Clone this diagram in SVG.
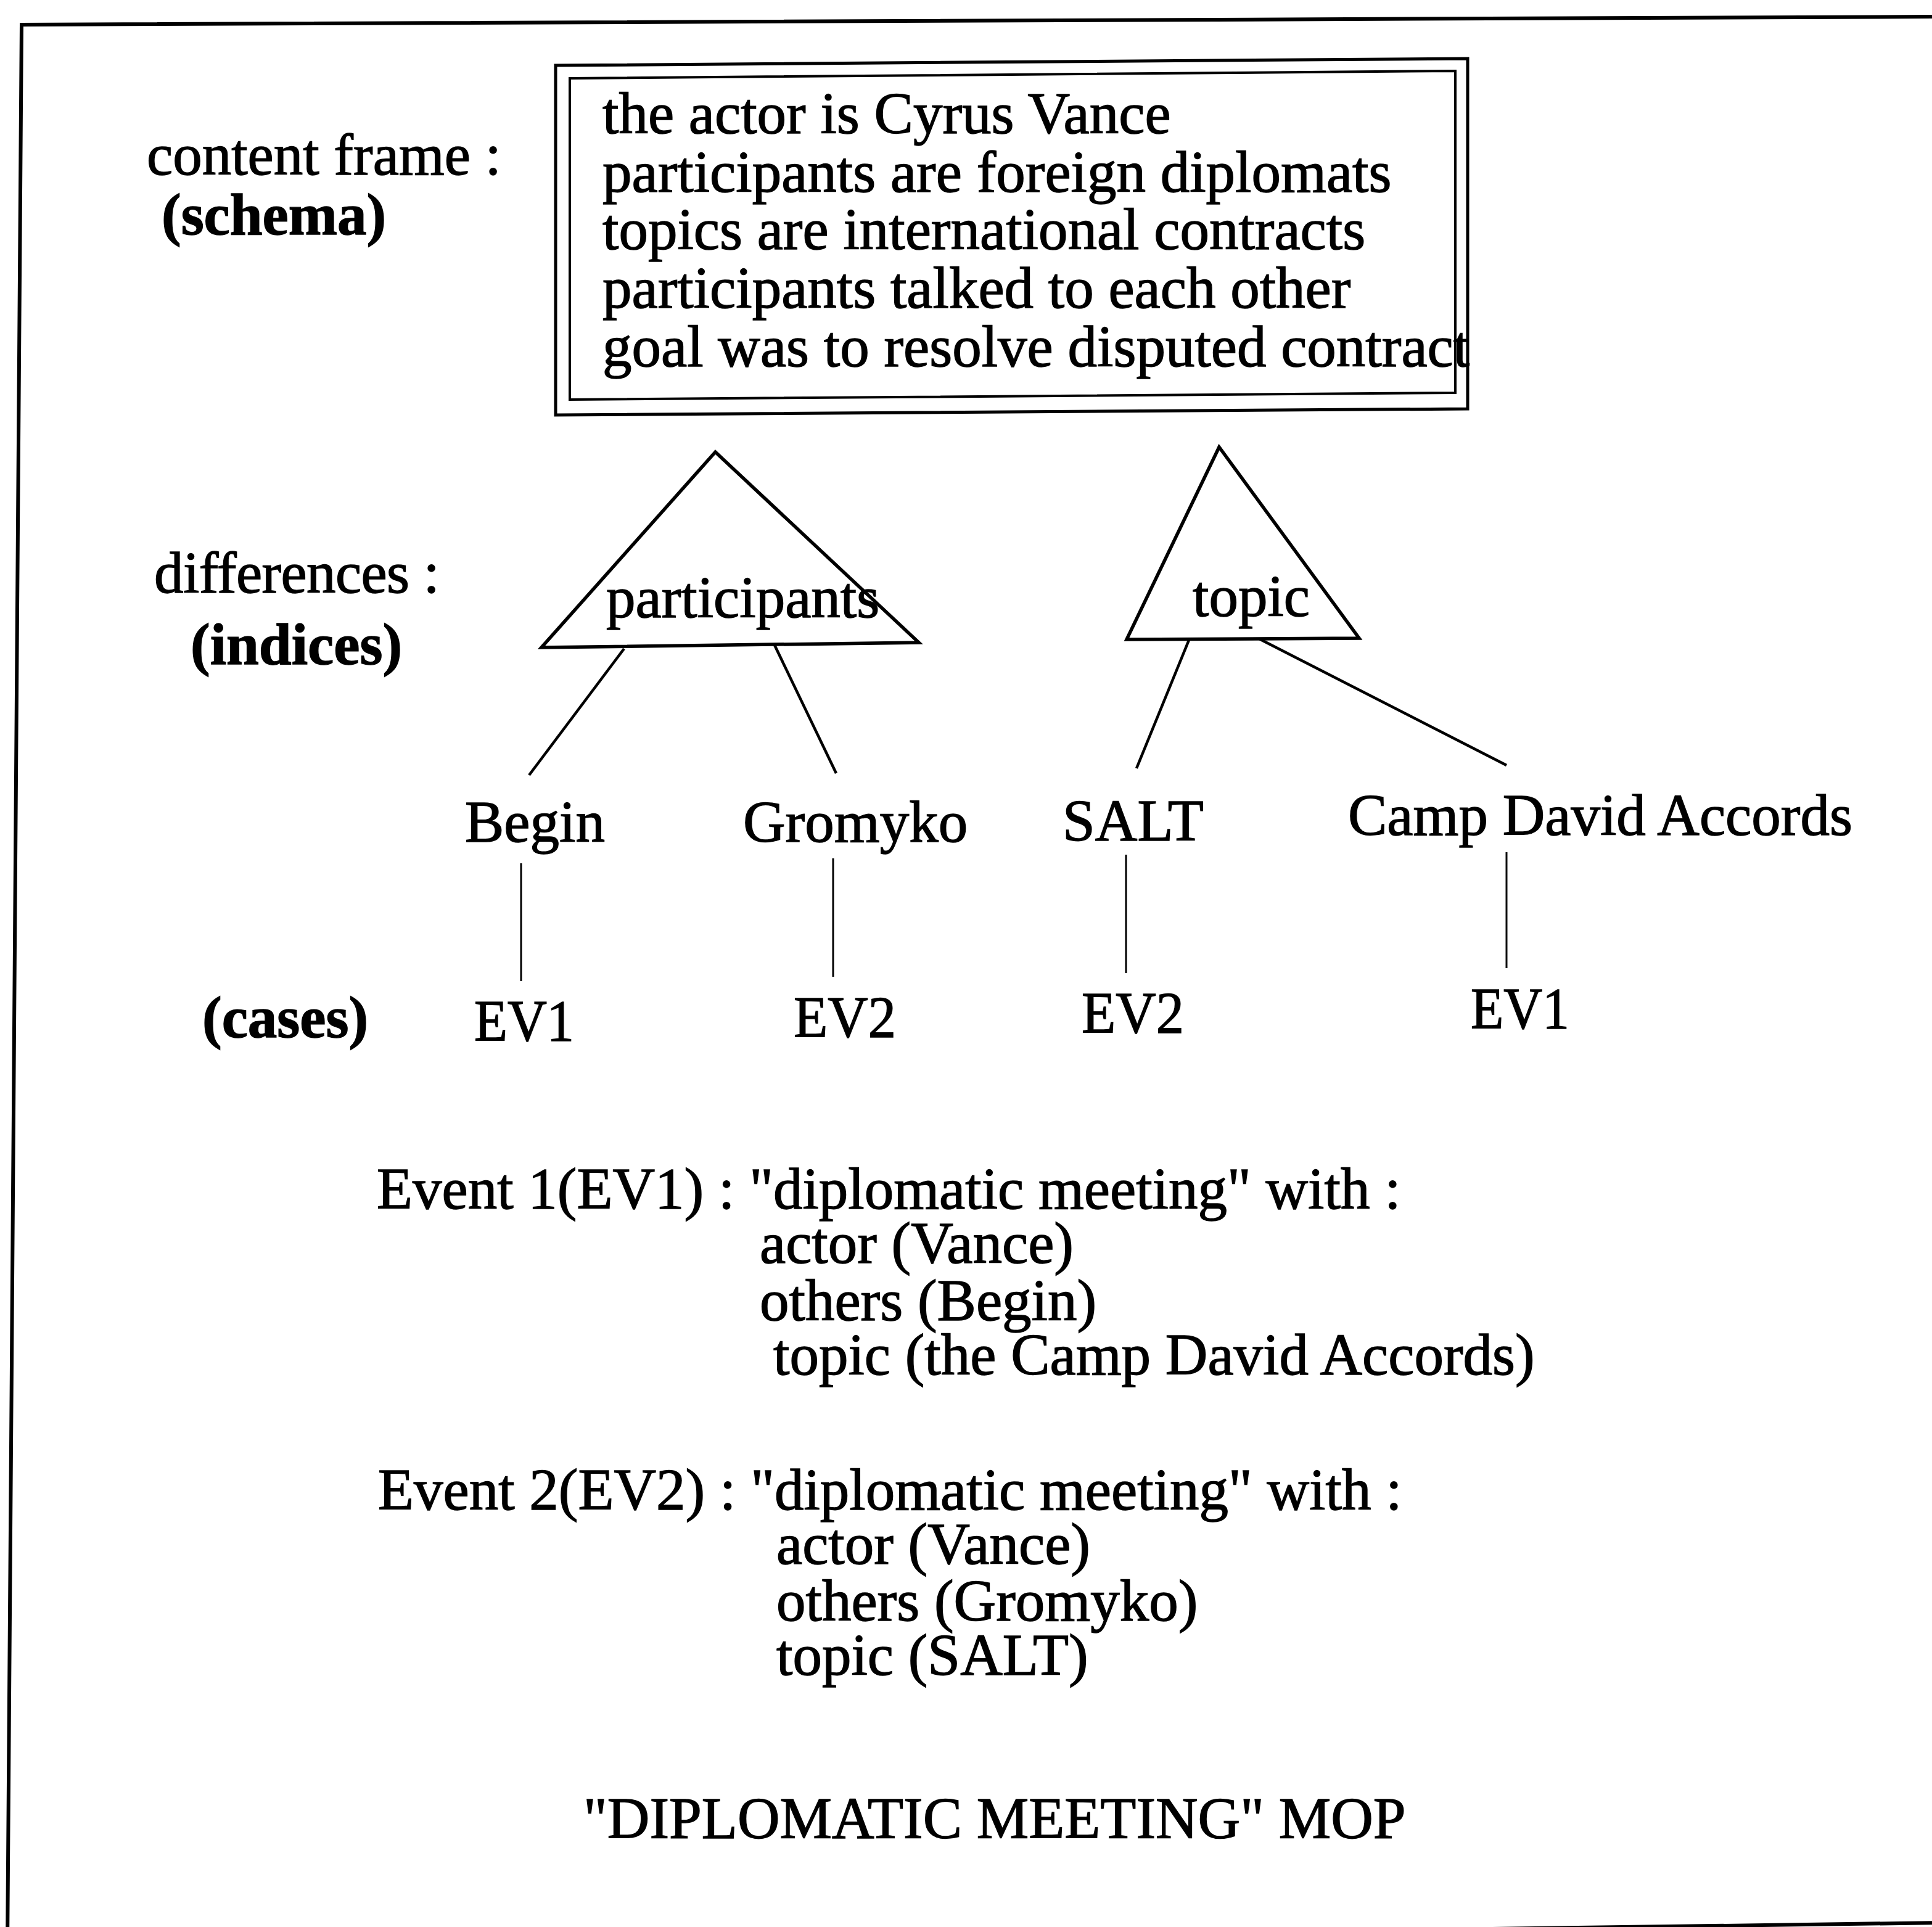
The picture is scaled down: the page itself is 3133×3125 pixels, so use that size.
<svg xmlns="http://www.w3.org/2000/svg" width="3133" height="3125" viewBox="0 0 3133 3125">
  <style>
    text { font-family: "Liberation Serif", "Times New Roman", serif; font-size: 95px; fill: #000; stroke: #000; stroke-width: 1.4; }
    .b { font-weight: bold; }
    .frame { fill: none; stroke: #000; stroke-width: 6; }
    .box { fill: none; stroke: #000; }
    .tri { fill: none; stroke: #000; stroke-width: 5.5; stroke-linejoin: miter; }
    .edge { stroke: #000; stroke-width: 4.5; fill: none; }
    .stem { stroke: #000; stroke-width: 3; fill: none; }
  </style>
  <rect width="3133" height="3125" fill="#fff"/>

  <!-- page border -->
  <polygon class="frame" points="35,40 3150,27 3150,3118 12,3161"/>

  <!-- left-hand legend -->
  <g id="legend">
    <text x="238" y="283">content frame :</text>
    <text class="b" x="262" y="380">(schema)</text>
    <text x="250" y="961" textLength="463" lengthAdjust="spacing">differences :</text>
    <text class="b" x="309" y="1077">(indices)</text>
    <text class="b" x="328" y="1682">(cases)</text>
  </g>

  <!-- schema: double-ruled content frame -->
  <g id="schema">
    <polygon class="box" stroke-width="5" points="901,106 2380,95 2380,663 901,673"/>
    <polygon class="box" stroke-width="4" points="924,127 2360,115 2360,637 924,648"/>
    <text x="977" y="216">the actor is Cyrus Vance</text>
    <text x="977" y="311">participants are foreign diplomats</text>
    <text x="977" y="404">topics are international contracts</text>
    <text x="977" y="499">participants talked to each other</text>
    <text x="977" y="594">goal was to resolve disputed contract</text>
  </g>

  <!-- index nodes -->
  <g id="index-participants">
    <polygon class="tri" points="1160,733 878,1050 1490,1042"/>
    <text x="983" y="1001">participants</text>
  </g>
  <g id="index-topic">
    <polygon class="tri" points="1977,725 1827,1037 2204,1035"/>
    <text x="1934" y="999">topic</text>
  </g>

  <!-- index values -->
  <g id="value-begin"><text x="754" y="1365">Begin</text></g>
  <g id="value-gromyko"><text x="1205" y="1365">Gromyko</text></g>
  <g id="value-salt"><text x="1723" y="1363">SALT</text></g>
  <g id="value-camp-david"><text x="2186" y="1354">Camp David Accords</text></g>

  <!-- cases -->
  <g id="case-begin-ev1"><text x="769" y="1688" textLength="162" lengthAdjust="spacingAndGlyphs">EV1</text></g>
  <g id="case-gromyko-ev2"><text x="1287" y="1682" textLength="166" lengthAdjust="spacingAndGlyphs">EV2</text></g>
  <g id="case-salt-ev2"><text x="1754" y="1675" textLength="166" lengthAdjust="spacingAndGlyphs">EV2</text></g>
  <g id="case-camp-david-ev1"><text x="2385" y="1668" textLength="160" lengthAdjust="spacingAndGlyphs">EV1</text></g>

  <!-- connectors -->
  <g id="connectors">
    <line class="edge" x1="1012" y1="1052" x2="858" y2="1257"/>
    <line class="edge" x1="1256" y1="1046" x2="1356" y2="1254"/>
    <line class="edge" x1="1928" y1="1038" x2="1843" y2="1246"/>
    <line class="edge" x1="2042" y1="1036" x2="2443" y2="1241"/>
    <line class="stem" x1="845" y1="1400" x2="845" y2="1591"/>
    <line class="stem" x1="1351" y1="1392" x2="1351" y2="1584"/>
    <line class="stem" x1="1826" y1="1386" x2="1826" y2="1578"/>
    <line class="stem" x1="2443" y1="1382" x2="2443" y2="1570"/>
  </g>

  <!-- event descriptions -->
  <g id="events">
    <text x="611" y="1960">Event 1(EV1) : "diplomatic meeting" with :</text>
    <text x="1232" y="2048">actor (Vance)</text>
    <text x="1232" y="2141">others (Begin)</text>
    <text x="1254" y="2229">topic (the Camp David Accords)</text>
    <text x="613" y="2448">Event 2(EV2) : "diplomatic meeting" with :</text>
    <text x="1259" y="2536">actor (Vance)</text>
    <text x="1259" y="2628">others (Gromyko)</text>
    <text x="1259" y="2716">topic (SALT)</text>
  </g>

  <!-- caption -->
  <g id="caption">
    <text x="946" y="2981">"DIPLOMATIC MEETING" MOP</text>
  </g>
</svg>
